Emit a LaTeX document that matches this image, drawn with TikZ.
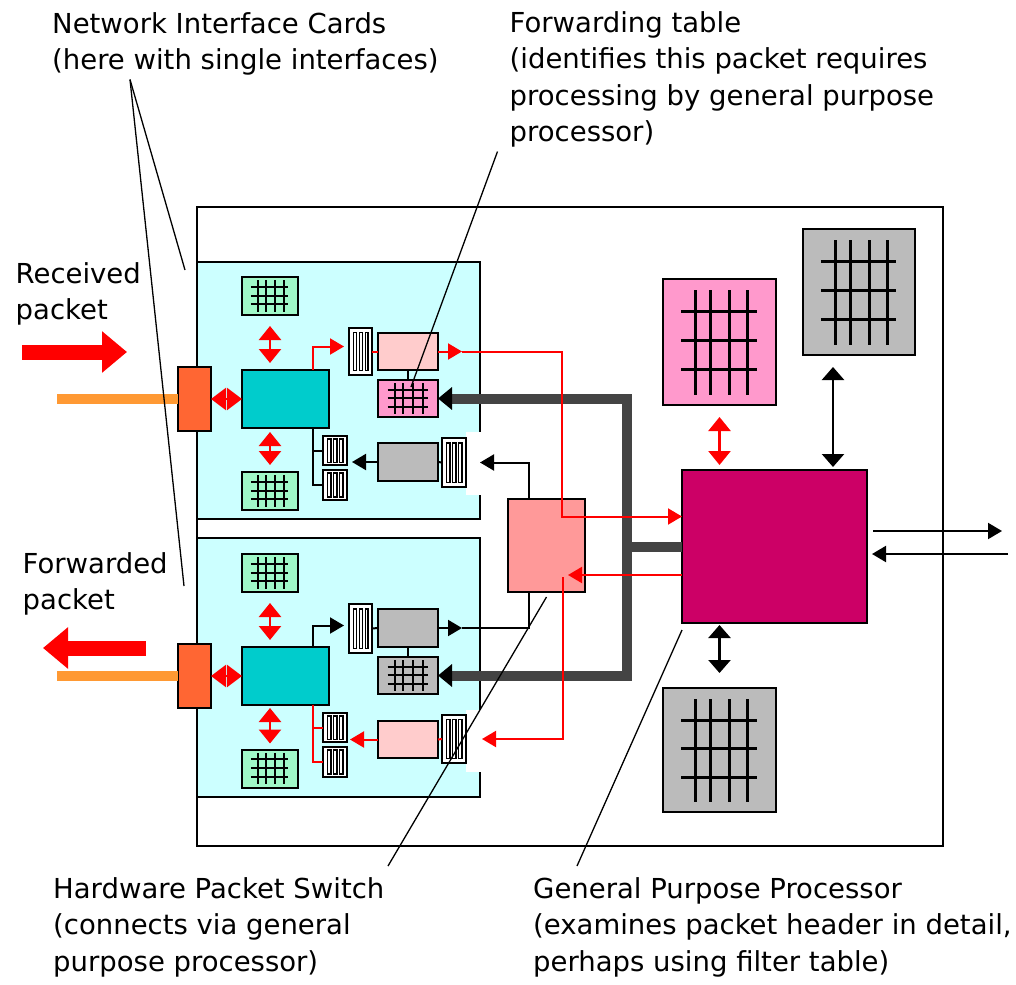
\documentclass[tikz,border=0pt]{standalone}
\usepackage{fontspec}
\setmainfont{DejaVu Sans}
\usetikzlibrary{arrows.meta,calc}
\definecolor{colCard}{RGB}{204,255,255}
\definecolor{colTeal}{RGB}{0,204,204}
\definecolor{colPort}{RGB}{255,102,51}
\definecolor{colWire}{RGB}{255,153,51}
\definecolor{colMem}{RGB}{160,248,200}
\definecolor{colPinkLight}{RGB}{255,204,204}
\definecolor{colPink}{RGB}{255,153,204}
\definecolor{colGrey}{RGB}{187,187,187}
\definecolor{colSwitch}{RGB}{255,153,153}
\definecolor{colCPU}{RGB}{204,0,102}
\definecolor{colBus}{RGB}{68,68,68}

\begin{document}
\begin{tikzpicture}[x=1pt, y=-1pt,
  lbl/.style={anchor=north west, align=left, inner sep=0, font=\fontsize{27.5}{36.5}\selectfont},
  blk/.style={draw, line width=2pt, inner sep=0, outer sep=0},
  memgrid/.style={blk, path picture={
    \draw[line width=#1] let \p1=(path picture bounding box.north west), \p2=(path picture bounding box.south east) in
      \foreach \f in {0.29,0.42,0.59,0.75}{({\x1+\f*(\x2-\x1)},{\y1+0.09*(\y2-\y1)}) -- ({\x1+\f*(\x2-\x1)},{\y1+0.92*(\y2-\y1)})}
      \foreach \f in {0.26,0.49,0.72}{({\x1+0.16*(\x2-\x1)},{\y1+\f*(\y2-\y1)}) -- ({\x1+0.83*(\x2-\x1)},{\y1+\f*(\y2-\y1)})};}},
  memgrid/.default=2pt,
  fifo/.style={blk, fill=white, path picture={
    \draw[line width=1.2pt] let \p1=(path picture bounding box.north west), \p2=(path picture bounding box.south east) in
      \foreach \f in {0.2,0.45,0.7}{({\x1+\f*(\x2-\x1)},{\y1+0.1*(\y2-\y1)}) rectangle ({\x1+(\f+0.13)*(\x2-\x1)},{\y1+0.9*(\y2-\y1)})};}},
  redline/.style={draw=red, line width=2pt},
  redarr/.style={redline, -{Triangle[length=14pt,width=16pt]}},
  blkline/.style={draw=black, line width=2pt},
  blkarr/.style={blkline, -{Triangle[length=14pt,width=16pt]}},
  reddbl/.style={draw=red, line width=2.5pt, {Triangle[length=14pt,width=22pt]}-{Triangle[length=14pt,width=22pt]}},
  blkdbl/.style={draw=black, line width=2.5pt, {Triangle[length=13pt,width=22pt]}-{Triangle[length=13pt,width=22pt]}},
  busline/.style={draw=colBus, line width=10pt},
  wire/.style={draw=colWire, line width=10pt},
  bigarr/.style={draw=red, line width=15pt, -{Triangle[length=25pt,width=40pt]}},
  leader/.style={draw=black, line width=1.3pt}]
  \useasboundingbox (0,0) rectangle (1016,984);

  \node[blk, minimum width=746pt, minimum height=639pt] (router) at (570,526.5) {};
  \node[blk, fill=colCard, minimum width=283pt, minimum height=257pt] (nicA) at (338.5,390.5) {};
  \node[blk, fill=colCard, minimum width=283pt, minimum height=259pt] (nicB) at (338.5,667.5) {};
  \node[fill=white, inner sep=0, minimum width=16pt, minimum height=63pt] (gapA) at (474,463.5) {};
  \node[fill=white, inner sep=0, minimum width=16pt, minimum height=62pt] (gapB) at (474,741) {};

  \node[blk, fill=colPort, minimum width=33pt, minimum height=64pt] (portA) at (194.5,399) {};
  \node[blk, fill=colPort, minimum width=33pt, minimum height=64pt] (portB) at (194.5,676) {};
  \node[blk, fill=colTeal, minimum width=87pt, minimum height=58pt] (cpuA) at (285.5,399) {};
  \node[blk, fill=colTeal, minimum width=87pt, minimum height=58pt] (cpuB) at (285.5,676) {};
  \node[memgrid, fill=colMem, minimum width=56pt, minimum height=38pt] (memA1) at (270,296) {};
  \node[memgrid, fill=colMem, minimum width=56pt, minimum height=38pt] (memA2) at (270,491) {};
  \node[memgrid, fill=colMem, minimum width=56pt, minimum height=38pt] (memB1) at (270,573) {};
  \node[memgrid, fill=colMem, minimum width=56pt, minimum height=38pt] (memB2) at (270,768.5) {};

  \node[fifo, minimum width=23pt, minimum height=47pt] (fifoA1) at (360.5,351.5) {};
  \node[fifo, minimum width=24pt, minimum height=49pt] (fifoA2) at (454,462.5) {};
  \node[fifo, minimum width=24pt, minimum height=29pt] (fifoA3) at (335,450.5) {};
  \node[fifo, minimum width=24pt, minimum height=30pt] (fifoA4) at (335,485) {};
  \node[fifo, minimum width=23pt, minimum height=49pt] (fifoB1) at (360.5,628.5) {};
  \node[fifo, minimum width=24pt, minimum height=48pt] (fifoB2) at (454,739) {};
  \node[fifo, minimum width=24pt, minimum height=29pt] (fifoB3) at (335,727.5) {};
  \node[fifo, minimum width=24pt, minimum height=30pt] (fifoB4) at (335,762) {};

  \node[blk, fill=colPinkLight, minimum width=60pt, minimum height=37pt] (bufA1) at (408,351.5) {};
  \node[memgrid, fill=colPink, minimum width=60pt, minimum height=37pt] (fibA) at (408,398.5) {};
  \node[blk, fill=colGrey, minimum width=60pt, minimum height=38pt] (bufA2) at (408,462) {};
  \node[blk, fill=colGrey, minimum width=60pt, minimum height=38pt] (bufB1) at (408,628) {};
  \node[memgrid, fill=colGrey, minimum width=60pt, minimum height=37pt] (fibB) at (408,675.5) {};
  \node[blk, fill=colPinkLight, minimum width=60pt, minimum height=37pt] (bufB2) at (408,739.5) {};

  \node[blk, fill=colSwitch, minimum width=77pt, minimum height=93pt] (switch) at (546.5,545.5) {};
  \node[blk, fill=colCPU, minimum width=185pt, minimum height=153pt] (gpp) at (774.5,546.5) {};
  \node[memgrid=3pt, fill=colPink, minimum width=113pt, minimum height=126pt] (gppMem) at (719.5,342) {};
  \node[memgrid=3pt, fill=colGrey, minimum width=112pt, minimum height=126pt] (filter) at (859,292) {};
  \node[memgrid=3pt, fill=colGrey, minimum width=113pt, minimum height=124pt] (gppMem2) at (719.5,750) {};

  \node[lbl] (lblNIC) at (52,12) {Network Interface Cards\\(here with single interfaces)};
  \node[lbl] (lblRx) at (15.5,262) {Received\\packet};
  \node[lbl] (lblFwd) at (509.5,11) {Forwarding table\\(identifies this packet requires\\processing by general purpose\\processor)};
  \node[lbl] (lblTx) at (22.5,552) {Forwarded\\packet};
  \node[lbl] (lblHPS) at (53,877) {Hardware Packet Switch\\(connects via general\\purpose processor)};
  \node[lbl] (lblGPP) at (533,877) {General Purpose Processor\\(examines packet header in detail,\\perhaps using filter table)};

  \coordinate (wireA) at (57,399);
  \coordinate (wireB) at (57,676);
  \coordinate (rxTail) at (22,352);
  \coordinate (rxHead) at (127,352);
  \coordinate (txTail) at (146,648);
  \coordinate (txHead) at (43,648);
  \coordinate (tapA) at (462,351.5);
  \coordinate (upA) at (562,515);
  \coordinate (tapB) at (462,628);
  \coordinate (busJoint) at (627,546.5);
  \coordinate (retTip) at (568,575);
  \coordinate (swOut) at (563,577);
  \coordinate (filtPort) at ([xshift=-26pt]filter.south);
  \coordinate (extOut) at (1002,531);
  \coordinate (extIn) at (1008,554);
  \coordinate (nicEndA) at (185,270);
  \coordinate (nicEndB) at (184,586);

  \draw[wire] (wireA) -- (portA.west);
  \draw[wire] (wireB) -- (portB.west);
  \draw[bigarr] (rxTail) -- (rxHead);
  \draw[bigarr] (txTail) -- (txHead);

  \draw[busline] (gpp.west) -- (gpp.west -| busJoint);
  \draw[busline, {Triangle[length=14pt,width=22pt,color=black]}-{Triangle[length=14pt,width=22pt,color=black]}] (fibA.east) -| (busJoint) |- (fibB.east);

  \draw[reddbl, {Triangle[length=15pt,width=22pt]}-{Triangle[length=15pt,width=22pt]}] (portA.east) -- (cpuA.west);
  \draw[reddbl, shorten <=11pt, shorten >=7pt] (memA1.south) -- (memA1.south |- cpuA.north);
  \draw[reddbl, shorten <=4pt, shorten >=7pt] (cpuA.south -| memA2.north) -- (memA2.north);
  \draw[redarr] ([xshift=-16pt]cpuA.north east) |- ([xshift=-5pt,yshift=5pt]fifoA1.west);
  \draw[redline] (fifoA1.east) -- (bufA1.west);
  \draw[redarr] (bufA1.east) -- (tapA);
  \draw[blkline] (bufA1.south) -- (fibA.north);
  \draw[blkline] (fifoA2.west) -- (bufA2.east);
  \draw[blkarr] (bufA2.west) -- ([xshift=5pt]bufA2.west -| fifoA3.east);
  \draw[blkline] ([xshift=-16pt]cpuA.south east) |- (fifoA4.west);
  \draw[blkline] (fifoA3.west) -- ++(-10,0);
  \draw[blkarr] ([xshift=-17.5pt]switch.north) |- ([xshift=14pt]fifoA2.east);

  \draw[reddbl, {Triangle[length=15pt,width=22pt]}-{Triangle[length=15pt,width=22pt]}] (portB.east) -- (cpuB.west);
  \draw[reddbl, shorten <=11pt, shorten >=7pt] (memB1.south) -- (memB1.south |- cpuB.north);
  \draw[reddbl, shorten <=3pt, shorten >=6pt] (cpuB.south -| memB2.north) -- (memB2.north);
  \draw[blkarr] ([xshift=-16pt]cpuB.north east) |- ([xshift=-5pt,yshift=3pt]fifoB1.west);
  \draw[blkline] (fifoB1.east) -- (bufB1.west);
  \draw[blkarr] (bufB1.east) -- (tapB);
  \draw[blkline] (tapB) -| ([xshift=-17.5pt]switch.south);
  \draw[blkline] (bufB1.south) -- (fibB.north);
  \draw[redline] (fifoB2.west) -- (bufB2.east);
  \draw[redarr] (bufB2.west) -- ([xshift=3pt]bufB2.west -| fifoB3.east);
  \draw[redline] ([xshift=-16pt]cpuB.south east) |- (fifoB4.west);
  \draw[redline] (fifoB3.west) -- ++(-10,0);

  \draw[redarr] (tapA) -| (upA) |- ([yshift=30pt]gpp.west);
  \draw[redarr] (gpp.west |- retTip) -- (retTip);
  \draw[redarr] (swOut) |- ([xshift=16pt]fifoB2.east);

  \draw[reddbl, shorten <=12pt, shorten >=5pt] (gppMem.south) -- (gppMem.south |- gpp.north);
  \draw[blkdbl, shorten <=12pt, shorten >=3pt] (filtPort) -- (filtPort |- gpp.north);
  \draw[blkdbl, shorten <=2pt, shorten >=15pt] (gpp.south -| gppMem2.north) -- (gppMem2.north);
  \draw[blkarr, shorten <=6pt] (gpp.east |- extOut) -- (extOut);
  \draw[blkarr, shorten >=5pt] (extIn) -- (extIn -| gpp.east);

  \draw[leader] ([xshift=78pt,yshift=-4pt]lblNIC.south west) -- (nicEndA);
  \draw[leader] ([xshift=78pt,yshift=-4pt]lblNIC.south west) -- (nicEndB);
  \draw[leader] ([xshift=-12pt,yshift=-4pt]lblFwd.south west) -- ([xshift=3pt,yshift=-7pt]fibA.north);
  \draw[leader] ([xshift=335pt,yshift=11pt]lblHPS.north west) -- ([yshift=-5pt]switch.south);
  \draw[leader] ([xshift=44pt,yshift=11pt]lblGPP.north west) -- ([yshift=-7pt]gpp.south west);
\end{tikzpicture}
\end{document}
